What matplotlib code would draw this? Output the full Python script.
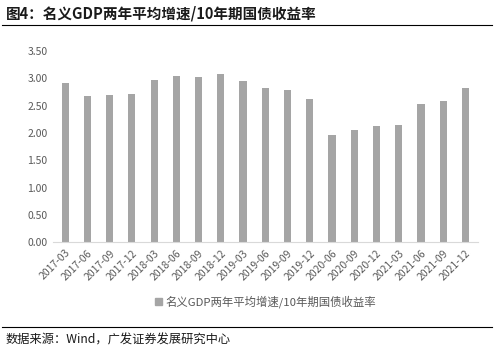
import matplotlib.pyplot as plt
from matplotlib.patches import Patch

plt.rcParams['font.family'] = ['Noto Sans CJK SC', 'DejaVu Sans']

quarters = ['2017-03', '2017-06', '2017-09', '2017-12', '2018-03', '2018-06',
            '2018-09', '2018-12', '2019-03', '2019-06', '2019-09', '2019-12',
            '2020-06', '2020-09', '2020-12', '2021-03', '2021-06', '2021-09',
            '2021-12']
ratio = [2.92, 2.67, 2.70, 2.72, 2.98, 3.05, 3.02, 3.09, 2.96, 2.83, 2.78,
         2.63, 1.97, 2.05, 2.12, 2.14, 2.54, 2.58, 2.83]
series_name = '名义GDP两年平均增速/10年期国债收益率'
bar_color = '#a5a5a5'

fig = plt.figure(figsize=(4.94, 3.53), dpi=100)
ax = fig.add_axes([0.107, 0.314, 0.86, 0.541])

x = range(len(quarters))
ax.bar(x, ratio, width=0.32, color=bar_color)
ax.set_xlim(-0.55, len(quarters) - 0.45)
ax.set_ylim(0, 3.5)
ax.set_yticks([i * 0.5 for i in range(8)])
ax.set_yticklabels([f'{i * 0.5:.2f}' for i in range(8)], fontsize=7.5, color='#595959')
ax.set_xticks(list(x))
ax.set_xticklabels(quarters, rotation=45, ha='right', rotation_mode='anchor',
                   fontsize=7.5, color='#595959')
for s in ['top', 'right', 'left']:
    ax.spines[s].set_visible(False)
ax.spines['bottom'].set_color('#d9d9d9')
ax.tick_params(length=0, pad=4)

ax.legend(handles=[Patch(color=bar_color, label=series_name)],
          loc='center', bbox_to_anchor=(0.5, -0.31), frameon=False,
          fontsize=8.2, handlelength=0.6, handleheight=0.6, handletextpad=0.3,
          labelcolor='#595959')

fig.text(0.012, 0.962, '图4：名义GDP两年平均增速/10年期国债收益率',
         fontsize=10.5, fontweight='bold', va='center', color='#1a1a1a')
fig.add_artist(plt.Line2D([0.005, 0.995], [0.929, 0.929], color='black', lw=0.8))
fig.add_artist(plt.Line2D([0.005, 0.995], [0.074, 0.074], color='black', lw=0.8))
fig.text(0.012, 0.038, '数据来源：Wind，广发证券发展研究中心',
         fontsize=8.8, va='center', color='#1a1a1a')

fig.savefig('out.png', dpi=100)
